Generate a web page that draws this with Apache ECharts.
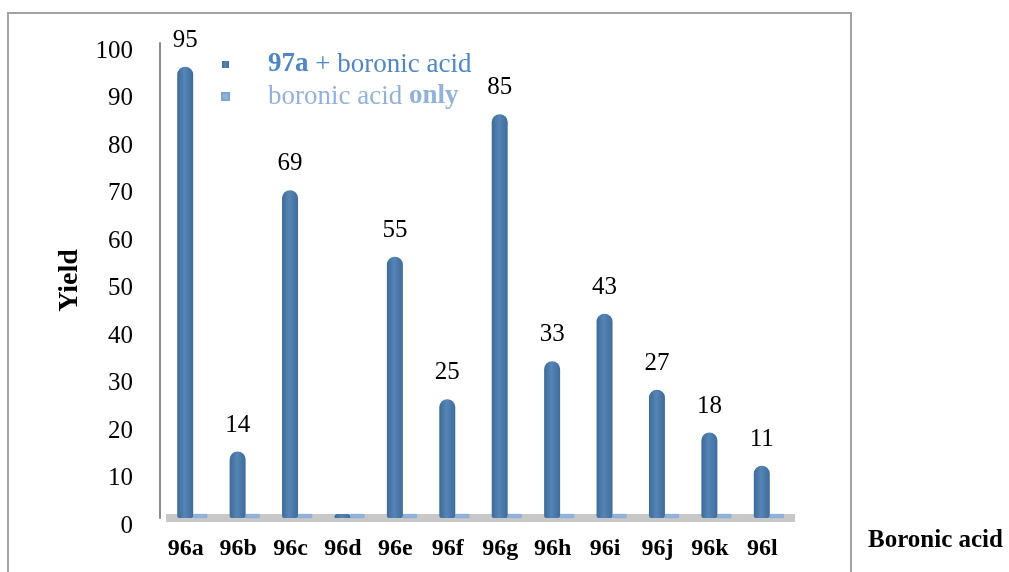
<!DOCTYPE html>
<html>
<head>
<meta charset="utf-8">
<script src="https://cdn.jsdelivr.net/npm/echarts@6/dist/echarts.min.js"></script>
<style>
  html, body { margin: 0; padding: 0; background: #fff; }
  #chart { width: 1009px; height: 572px; }
  /* chart frame like the spreadsheet export */
  .frame {
    position: absolute; left: 7px; top: 12px; width: 841px; height: 600px;
    border: 2px solid #a3a3a3; pointer-events: none;
  }
</style>
</head>
<body>
<div id="chart"></div>
<div class="frame"></div>
<script>
// data
const categories = ["96a", "96b", "96c", "96d", "96e", "96f", "96g", "96h", "96i", "96j", "96k", "96l"];
const withCatalyst = [95, 14, 69, 0, 55, 25, 85, 33, 43, 27, 18, 11];
const acidOnly = [0, 0, 0, 0, 0, 0, 0, 0, 0, 0, 0, 0];
const seriesNames = ["97a + boronic acid", "boronic acid only"];

const serif = "Liberation Serif";
let myChart = echarts.init(document.getElementById("chart"));
myChart.setOption({
  animation: false,
  grid: {
    left: 166,
    right: 214,
    top: 43,
    bottom: 54,
  },
  legend: {
    orient: "vertical",
    left: 216,
    top: 46,
    itemWidth: 7,
    itemHeight: 7,
    itemGap: 5,
    icon: "rect",
    textStyle: {
      fontFamily: serif,
      fontSize: 27,
      padding: [0, 0, 0, 34],
      rich: {
        b1: { fontFamily: serif, fontSize: 27, fontWeight: "bold", color: "#4f86c6" },
        b2: { fontFamily: serif, fontSize: 27, fontWeight: "bold", color: "#92b2da" },
      },
    },
    data: [
      { name: seriesNames[0], textStyle: { color: "#4f86c6" } },
      { name: seriesNames[1], textStyle: { color: "#92b2da" } },
    ],
    formatter: function (name) {
      if (name === seriesNames[0]) return "{b1|97a} + boronic acid";
      return "boronic acid {b2|only}";
    },
  },
  xAxis: {
    type: "category",
    data: categories,
    name: "Boronic acid",
    nameLocation: "end",
    nameGap: 73,
    nameTextStyle: {
      fontFamily: serif,
      fontSize: 25,
      fontWeight: "bold",
      color: "#000",
      verticalAlign: "top",
      lineHeight: 46,
    },
    axisTick: { show: false },
    axisLine: {
      show: true,
      lineStyle: { color: "#c8c8c8", width: 8, cap: "butt" },
    },
    axisLabel: {
      fontFamily: serif,
      fontSize: 24,
      fontWeight: "bold",
      color: "#000",
      margin: 19,
      padding: [0, 13, 0, 0],
    },
  },
  yAxis: {
    type: "value",
    min: 0,
    max: 100,
    interval: 10,
    offset: 6,
    name: "Yield",
    nameLocation: "middle",
    nameGap: 76,
    nameRotate: 90,
    nameTextStyle: {
      fontFamily: serif,
      fontSize: 28,
      fontWeight: "bold",
      color: "#000",
    },
    axisLine: { show: true, lineStyle: { color: "#8c8c8c", width: 2 } },
    axisTick: { show: false },
    splitLine: { show: false },
    axisLabel: {
      fontFamily: serif,
      fontSize: 25,
      color: "#000",
      margin: 27,
      verticalAlign: "top",
      lineHeight: 16,
    },
  },
  series: [
    {
      type: "bar",
      name: seriesNames[0],
      data: withCatalyst,
      barWidth: 16,
      barGap: "0%",
      barMinHeight: 4,
      itemStyle: {
        borderRadius: [8, 8, 2, 2],
        // cylinder shading
        color: new echarts.graphic.LinearGradient(0, 0, 1, 0, [
          { offset: 0, color: "#3d6b98" },
          { offset: 0.45, color: "#5584b6" },
          { offset: 1, color: "#3e6c9b" },
        ]),
      },
      label: {
        show: true,
        position: "top",
        distance: 14,
        fontFamily: serif,
        fontSize: 25,
        color: "#000",
        formatter: function (p) {
          return p.value === 0 ? "" : p.value;
        },
      },
    },
    {
      type: "bar",
      name: seriesNames[1],
      data: acidOnly,
      barWidth: 14,
      barMinHeight: 4,
      itemStyle: {
        color: "#8fb3de",
        borderColor: "#7fa3cf",
        borderWidth: 0.5,
      },
    },
  ],
});
</script>
</body>
</html>
